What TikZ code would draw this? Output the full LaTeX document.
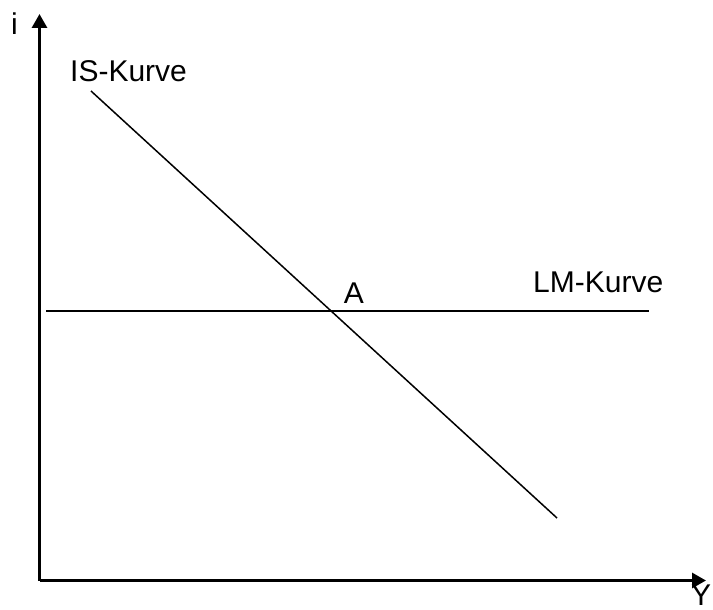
\documentclass[tikz,border=0pt]{standalone}
\usepackage{fontspec}
\setmainfont{Liberation Sans}
\usetikzlibrary{arrows.meta}
\begin{document}
\begin{tikzpicture}[x=1pt,y=-1pt,
  lbl/.style={inner sep=0pt,anchor=base west,font=\fontsize{30}{36}\selectfont},
  axis/.style={line width=3pt,-{Triangle[length=14pt,width=15pt]}},
  curve/.style={line width=1.5pt}]
\useasboundingbox (0,0) rectangle (713,610);
\coordinate (O) at (39.5,580.5);
\coordinate (ytip) at (39.5,14);
\coordinate (xtip) at (706,580.5);
\draw[axis] (O) -- (ytip);
\draw[axis] (O) -- (xtip);
\coordinate (is1) at (91,91);
\coordinate (is2) at (557,518);
\coordinate (lm1) at (46,311);
\coordinate (lm2) at (649,311);
\draw[curve] (is1) -- (is2);
\draw[curve] (lm1) -- (lm2);
\node[lbl] (i) at (11,35) {i};
\node[lbl] (Y) at (691,605) {Y};
\node[lbl] (IS) at (70,82) {IS-Kurve};
\node[lbl] (LM) at (533,292) {LM-Kurve};
\node[lbl,anchor=base] (A) at (354,303) {A};
\end{tikzpicture}
\end{document}
